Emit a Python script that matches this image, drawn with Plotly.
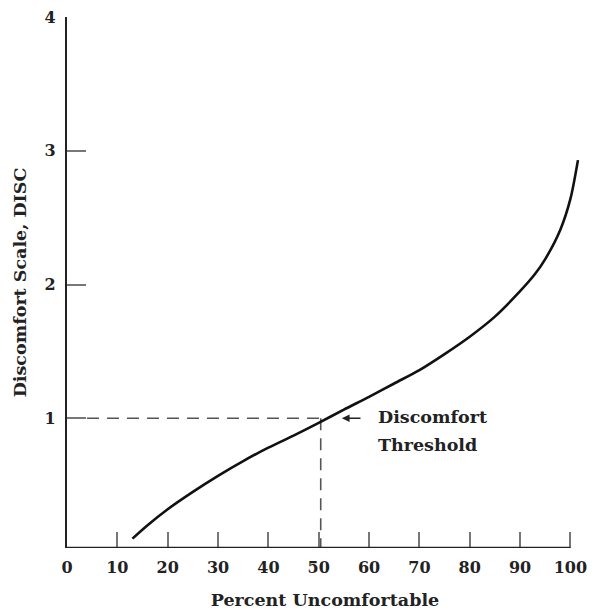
import plotly.graph_objects as go

# Curve
pct_uncomfortable = [13, 16, 20, 25, 30, 35, 40, 45, 50, 55, 60, 65, 70, 75, 80, 85, 90, 93, 95, 98, 100, 101.5]
disc_values = [0.10, 0.20, 0.32, 0.45, 0.57, 0.68, 0.78, 0.87, 0.965, 1.065, 1.16, 1.26, 1.36, 1.48, 1.61, 1.76, 1.95, 2.08, 2.19, 2.41, 2.64, 2.93]

threshold_pct = 50.4
threshold_disc = 1.0

x_ticks = [0, 10, 20, 30, 40, 50, 60, 70, 80, 90, 100]
y_ticks = [1, 2, 3, 4]
x_axis_end = 100
y_floor = 0.03

FONT = "DejaVu Serif"
TXT = "#222222"

fig = go.Figure()

# Dashed threshold guides
fig.add_trace(go.Scatter(
    x=[0, threshold_pct], y=[threshold_disc, threshold_disc],
    mode="lines", line=dict(color="#555555", width=1.6, dash="12px,8px"),
    hoverinfo="skip", showlegend=False))
fig.add_trace(go.Scatter(
    x=[threshold_pct, threshold_pct], y=[threshold_disc, y_floor],
    mode="lines", line=dict(color="#555555", width=1.6, dash="12px,8px"),
    hoverinfo="skip", showlegend=False))

# Main curve
fig.add_trace(go.Scatter(
    x=pct_uncomfortable, y=disc_values, mode="lines",
    line=dict(color="#111111", width=2.6, shape="spline", smoothing=0.8),
    showlegend=False))

# x axis line ending at 100
fig.add_shape(type="line", xref="x", yref="y", x0=0, x1=x_axis_end, y0=y_floor, y1=y_floor,
              line=dict(color=TXT, width=2.4), layer="above")

# Arrow and label
fig.add_annotation(x=54.6, y=threshold_disc, ax=58.6, ay=threshold_disc,
                   xref="x", yref="y", axref="x", ayref="y",
                   showarrow=True, arrowhead=2, arrowsize=1.1, arrowwidth=1.4,
                   arrowcolor=TXT, text="")
fig.add_annotation(x=61.3, y=1.01, xref="x", yref="y", text="Discomfort",
                   showarrow=False, xanchor="left", yanchor="middle",
                   font=dict(family=FONT, size=17.5, color=TXT, weight="bold"))
fig.add_annotation(x=61.3, y=0.80, xref="x", yref="y", text="Threshold",
                   showarrow=False, xanchor="left", yanchor="middle",
                   font=dict(family=FONT, size=17.5, color=TXT, weight="bold"))

fig.update_layout(
    width=595, height=615,
    margin=dict(l=67, r=8, t=16, b=67),
    paper_bgcolor="white", plot_bgcolor="white",
    font=dict(family=FONT, size=16, color=TXT),
)

fig.update_xaxes(
    range=[0, 102.5], tickvals=x_ticks, ticktext=[str(v) for v in x_ticks],
    ticks="inside", ticklen=16, tickwidth=1.8, tickcolor="#777777",
    showline=False, showgrid=False, zeroline=False,
    ticklabelstandoff=8,
    tickfont=dict(family=FONT, size=16, weight="bold"),
    title=dict(text="Percent Uncomfortable", standoff=17,
               font=dict(family=FONT, size=17.5, weight="bold")),
)
fig.update_yaxes(
    range=[y_floor, 4], tickvals=y_ticks, ticktext=[str(v) for v in y_ticks],
    ticks="inside", ticklen=19, tickwidth=1.8, tickcolor="#777777",
    showline=True, linecolor=TXT, linewidth=2.4,
    showgrid=False, zeroline=False,
    ticklabelstandoff=6,
    tickfont=dict(family=FONT, size=16, weight="bold"),
    title=dict(text="Discomfort Scale, DISC", standoff=13,
               font=dict(family=FONT, size=17.5, weight="bold")),
)

fig.write_html("out.html")
